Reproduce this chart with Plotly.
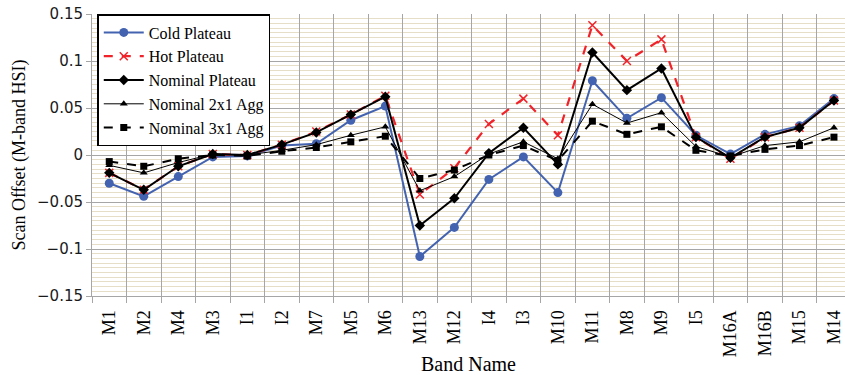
import plotly.graph_objects as go

bands = ["M1", "M2", "M4", "M3", "I1", "I2", "M7", "M5", "M6", "M13", "M12",
         "I4", "I3", "M10", "M11", "M8", "M9", "I5", "M16A", "M16B", "M15", "M14"]

cold_plateau = [-0.030, -0.044, -0.023, -0.002, -0.001, 0.010, 0.012, 0.037, 0.052, -0.108, -0.077,
                -0.026, -0.002, -0.040, 0.079, 0.039, 0.061, 0.021, 0.001, 0.022, 0.031, 0.060]
hot_plateau = [-0.019, -0.037, -0.012, 0.001, 0.000, 0.011, 0.025, 0.043, 0.063, -0.042, -0.014,
               0.033, 0.060, 0.021, 0.138, 0.100, 0.123, 0.019, -0.004, 0.019, 0.029, 0.058]
nominal_plateau = [-0.019, -0.037, -0.012, 0.001, 0.000, 0.011, 0.024, 0.043, 0.062, -0.075, -0.046,
                   0.002, 0.029, -0.010, 0.109, 0.069, 0.092, 0.019, -0.003, 0.019, 0.029, 0.058]
nominal_2x1 = [-0.011, -0.019, -0.008, 0.001, 0.000, 0.005, 0.011, 0.021, 0.030, -0.038, -0.023,
               0.001, 0.014, -0.004, 0.054, 0.034, 0.045, 0.009, -0.002, 0.010, 0.014, 0.029]
nominal_3x1 = [-0.007, -0.012, -0.004, 0.000, -0.001, 0.004, 0.008, 0.014, 0.020, -0.025, -0.016,
               0.000, 0.010, -0.006, 0.036, 0.022, 0.030, 0.005, -0.001, 0.006, 0.010, 0.019]

fig = go.Figure()
fig.add_trace(go.Scatter(x=bands, y=cold_plateau, name="Cold Plateau", mode="lines+markers",
                         line=dict(color="#4363b0", width=2),
                         marker=dict(symbol="circle", size=9, color="#4363b0")))
fig.add_trace(go.Scatter(x=bands, y=hot_plateau, name="Hot Plateau", mode="lines+markers",
                         line=dict(color="#f0222a", width=2.2, dash="dash"),
                         marker=dict(symbol="x-thin-open", size=8, color="#f0222a",
                                     line=dict(color="#f0222a", width=1.5))))
fig.add_trace(go.Scatter(x=bands, y=nominal_plateau, name="Nominal Plateau", mode="lines+markers",
                         line=dict(color="black", width=2),
                         marker=dict(symbol="diamond", size=8, color="black")))
fig.add_trace(go.Scatter(x=bands, y=nominal_2x1, name="Nominal 2x1 Agg", mode="lines+markers",
                         line=dict(color="black", width=1),
                         marker=dict(symbol="triangle-up", size=7, color="black")))
fig.add_trace(go.Scatter(x=bands, y=nominal_3x1, name="Nominal 3x1 Agg", mode="lines+markers",
                         line=dict(color="black", width=2, dash="dash"),
                         marker=dict(symbol="square", size=7, color="black")))

serif = "Liberation Serif, Times New Roman, serif"
sans = "DejaVu Sans, Arial, sans-serif"

fig.update_layout(
    width=845, height=375,
    margin=dict(l=92, r=0, t=14, b=79),
    paper_bgcolor="white", plot_bgcolor="white",
    showlegend=True,
    legend=dict(x=0.007, y=1, xanchor="left", yanchor="top",
                bgcolor="white", bordercolor="black", borderwidth=1.5,
                font=dict(family=serif, size=16, color="black"),
                itemwidth=40, tracegroupgap=0),
    xaxis=dict(
        type="category", range=[-0.5, 21.32],
        tickson="boundaries", showgrid=True, gridcolor="#a6a6a6", gridwidth=1,
        ticks="outside", ticklen=6, tickcolor="#a6a6a6",
        tickangle=-90, tickfont=dict(family=serif, size=18, color="black"),
        ticklabelstandoff=6,
        showline=True, linecolor="#a6a6a6",
        title=dict(text="Band Name", font=dict(family=serif, size=20, color="black"), standoff=0),
    ),
    yaxis=dict(
        range=[-0.15, 0.15], dtick=0.05, tick0=0,
        showgrid=True, gridcolor="#a6a6a6", gridwidth=1,
        zeroline=False,
        minor=dict(dtick=0.005, showgrid=True, gridcolor="#e6dec6", gridwidth=1, ticks=""),
        ticks="outside", ticklen=5, tickcolor="#a6a6a6",
        tickfont=dict(family=sans, size=15, color="#1a1a1a"),
        showline=True, linecolor="#a6a6a6",
        title=dict(text="Scan Offset (M-band HSI)", font=dict(family=serif, size=18, color="black"), standoff=6),
    ),
)

fig.write_html("out.html")
